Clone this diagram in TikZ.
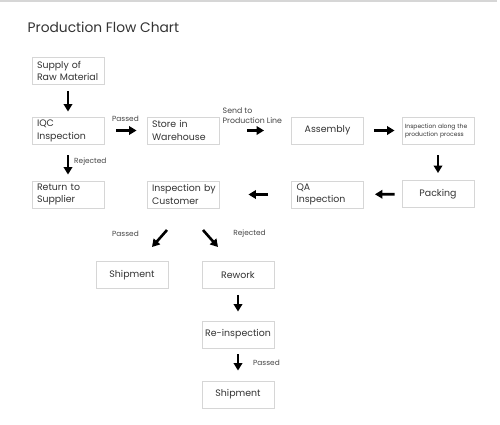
\documentclass[tikz,border=0pt]{standalone}
\usepackage{fontspec}
\setmainfont{Poppins}
\usetikzlibrary{arrows.meta}
\definecolor{boxline}{HTML}{D6D6D6}
\definecolor{txt}{HTML}{333333}
\definecolor{labtxt}{HTML}{444444}
\begin{document}
\begin{tikzpicture}[x=1pt,y=-1pt,
  box/.style={draw=boxline, line width=0.9pt, fill=white, minimum width=72pt, minimum height=27pt, inner sep=0pt, font=\fontsize{9.4}{12.8}\selectfont, text=txt},
  lbox/.style={box, align=left, text width=62pt},
  cbox/.style={box, align=center},
  arr/.style={line width=2.6pt, -{Triangle[length=7.5pt,width=8.5pt]}, black},
  lab/.style={font=\fontsize{7.4}{10}\selectfont, text=labtxt, inner sep=0pt}
]
\useasboundingbox (0,0) rectangle (500,424);
\draw[color=boxline, line width=1.5pt] (0,0.75) -- (497,0.75);

\node[anchor=west, inner sep=0pt, text=txt, font=\fontsize{13.8}{16}\selectfont] (title) at (27.5,27.5) {Production Flow Chart};

\node[lbox] (supply) at (68,71) {Supply of\\Raw Material};
\node[lbox] (iqc) at (68,130.5) {IQC\\Inspection};
\node[lbox] (store) at (183,130.5) {Store in\\Warehouse};
\node[cbox] (asm) at (327.5,130.5) {Assembly};
\node[box, align=left, text width=66pt, font=\fontsize{6}{8}\selectfont] (along) at (438,130.5) {Inspection along the\\production process};
\node[lbox] (ret) at (68,194.5) {Return to\\Supplier};
\node[lbox] (cust) at (183,194.5) {Inspection~by\\Customer};
\node[lbox] (qa) at (327.5,194.5) {QA\\Inspection};
\node[cbox] (pack) at (438,194) {Packing};
\node[cbox] (ship1) at (132,275) {Shipment};
\node[cbox] (rework) at (238,275) {Rework};
\node[cbox] (reinsp) at (238,334.5) {Re-inspection};
\node[cbox] (ship2) at (238,394.5) {Shipment};

\coordinate (d1s) at (167,230);
\coordinate (d1e) at (152,247);
\coordinate (d2s) at (203,230);
\coordinate (d2e) at (218,247);

\draw[arr, shorten <=6pt, shorten >=5pt] (supply) -- (iqc);
\draw[arr, shorten <=12pt, shorten >=10pt] (iqc) -- (store);
\draw[arr, shorten <=28pt, shorten >=27pt] (store) -- (asm);
\draw[arr, shorten <=10pt, shorten >=7pt] (asm) -- (along);
\draw[arr, shorten <=11pt, shorten >=7pt] (along) -- (pack);
\draw[arr, shorten <=7pt, shorten >=11pt] (pack) -- (qa);
\draw[arr, shorten <=23pt, shorten >=29pt] (qa) -- (cust);
\draw[arr, shorten <=11pt, shorten >=6pt] (iqc) -- (ret);
\draw[arr] (d1s) -- (d1e);
\draw[arr] (d2s) -- (d2e);
\draw[arr, shorten <=6pt, shorten >=9pt] (rework) -- (reinsp);
\draw[arr, shorten <=6pt, shorten >=10pt] (reinsp) -- (ship2);

\node[lab] (l1) at (125.5,118.5) {Passed};
\node[lab, align=left, anchor=west, font=\fontsize{7.8}{10}\selectfont] (l2) at (222.5,115.5) {Send to\\Production Line};
\node[lab, anchor=west] (l3) at (74,162) {Rejected};
\node[lab] (l4) at (125.5,234) {Passed};
\node[lab] (l5) at (249.5,234) {Rejected};
\node[lab] (l6) at (266.5,363) {Passed};
\end{tikzpicture}
\end{document}
